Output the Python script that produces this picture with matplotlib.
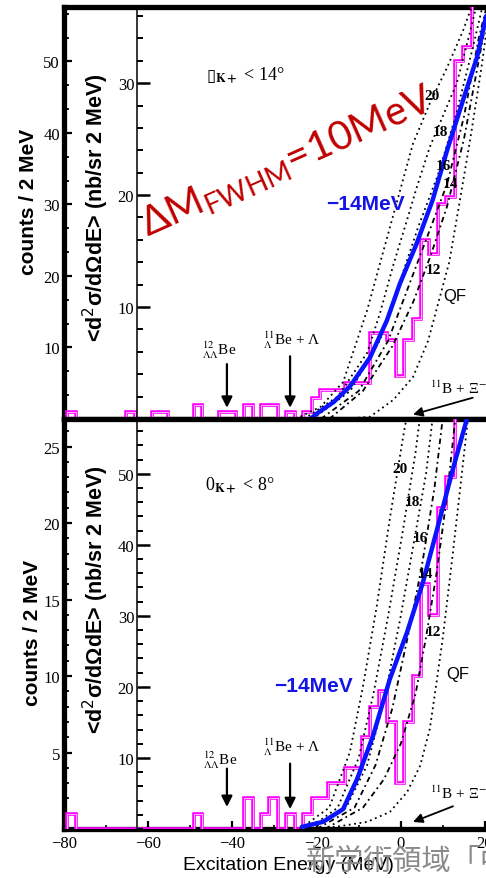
import numpy as np
import matplotlib
matplotlib.use('Agg')
import matplotlib.pyplot as plt
from matplotlib.ticker import FixedLocator, MultipleLocator

W, H, DPI = 486, 879, 100

# ---------------- data ----------------
bin_edges = np.arange(-79.2, 21.0, 2.0)          # 2 MeV bins
top_counts = [1, 0, 0, 0, 0, 0, 0, 1, 0, 0,
              1, 1, 0, 0, 0, 2, 0, 0, 1, 1,
              0, 2, 0, 2, 2, 0, 1, 0, 1, 3,
              4, 4, 4, 5, 5, 5, 12, 12, 11, 6,
              11, 14, 25, 23, 30, 31, 50, 52, 62, 70]
bot_counts = [1, 0, 0, 0, 0, 0, 0, 0, 0, 0,
              0, 0, 0, 0, 0, 1, 0, 0, 0, 0,
              0, 2, 0, 1, 2, 0, 1, 0, 1, 2,
              2, 3, 3, 4, 4, 6, 8, 9, 7, 3,
              7, 10, 16, 14, 21, 23, 30, 35, 40, 45]

# blue fit curve (nb/sr 2 MeV)
top_fit_E = [-21.5, -19.9, -16.0, -12.1, -7.3, -3.3, -0.2, 3.8, 7.6, 11.0, 14.8, 18.1, 20.3]
top_fit_v = [0.0, 0.5, 1.5, 2.9, 5.5, 8.8, 12.1, 15.7, 19.6, 24.0, 28.5, 32.3, 36.0]
bot_fit_E = [-23.5, -18.5, -13.7, -10.4, -6.6, -2.6, 1.5, 5.3, 9.3, 12.4, 15.7]
bot_fit_v = [0.3, 1.0, 2.8, 7.0, 13.1, 21.1, 27.7, 34.8, 43.7, 50.7, 57.7]

# theoretical curves (nb/sr 2 MeV) for potential depths 20..12 MeV and quasi-free
top_curves = {
    '20': ([-25, -19, -13.7, -8, -2.6, 2.9, 6.9, 11, 14.8, 17], [0, 1.1, 3.3, 9.7, 17.1, 24.6, 28.2, 31.4, 34.7, 37]),
    '18': ([-23, -15, -8, -4.9, -1.9, 1.5, 3.8, 6.9, 13.3, 16.4, 18], [0, 2, 5.9, 9.5, 13.6, 17.8, 20.7, 24.3, 30, 34.5, 37]),
    '16': ([-21, -12, -5, 0, 4, 9, 13, 17, 19.5], [0, 2.5, 7, 12.5, 17, 22, 27, 33, 37]),
    '14': ([-19, -10, -3, 2, 6, 11, 15, 18.5, 20.5], [0, 2.5, 7, 12, 16, 21, 27, 34, 37]),
    '12': ([-17, -9, -2, 3, 7, 11, 15, 18.5, 20.5], [0, 2.5, 6.5, 10.5, 14.5, 19, 25, 32, 36]),
    'QF': ([-14, -7.3, -1.8, 2.9, 6.5, 9, 11.5, 13.8, 16.5, 19, 20.5], [0, 0.2, 1.7, 3.75, 7, 10.5, 14, 19, 25, 31, 35]),
}
bot_curves = {
    '20': ([-24, -17, -12.1, -9, -5.7, -2.6, 0.5, 2], [0, 3, 10.8, 20, 31.4, 43.7, 55, 60]),
    '18': ([-22, -15, -10, -6.5, -3, 0.5, 3.5, 5], [0, 3, 10, 19, 30, 42, 53, 60]),
    '16': ([-21, -13, -8, -4, 0, 3, 6, 8], [0, 3, 9, 18, 30, 40, 50, 60]),
    '14': ([-20, -11, -6, -2, 2, 5, 8, 10], [0, 3, 9, 17, 28, 37, 48, 58]),
    '12': ([-18, -9, -4, 0, 3.5, 6, 8.5, 11, 13], [0, 3, 7, 12, 19, 27, 36, 47, 58]),
    'QF': ([-20, -14.4, -8, -2.6, 1.5, 4.6, 6.9, 8.6, 10, 12.4, 14.5, 16], [0, 0.4, 1.0, 2.4, 5.2, 8.9, 14.1, 21.1, 27, 39, 50, 58]),
}
curve_styles = {'20': (0, (1, 2)), '18': (0, (1, 2)), '16': (0, (1, 2)), '14': (0, (3, 2, 1, 2)),
                '12': (0, (3, 2, 1, 2)), 'QF': (0, (1, 2))}

x_ticks = [-80, -60, -40, -20, 0, 20]
top_count_ticks = [10, 20, 30, 40, 50]
top_inner_ticks = [10, 20, 30]
bot_count_ticks = [5, 10, 15, 20, 25]
bot_inner_ticks = [10, 20, 30, 40, 50]

# ---------------- style ----------------
plt.rcParams['mathtext.fontset'] = 'custom'
plt.rcParams['mathtext.rm'] = 'Lato'
plt.rcParams['mathtext.it'] = 'Lato:italic'
plt.rcParams['mathtext.bf'] = 'Lato:bold'
SERIF = ['Liberation Serif', 'DejaVu Serif']
SANS = ['Liberation Sans', 'DejaVu Sans']

fig = plt.figure(figsize=(W / DPI, H / DPI), dpi=DPI)

L_PX = 64
XMIN, XMAX = -80.0, 20.24
INNER_E = -62.66


def fx(x):
    return x / W


def fy(y):
    return 1 - y / H


def make_panel(ytop, ybot, cmax, vmax, cticks, cminor, vticks, show_x):
    rect = [fx(L_PX), fy(ybot), (W - L_PX) / W, (ybot - ytop) / H]
    ax = fig.add_axes(rect)
    ax.set_xlim(XMIN, XMAX)
    ax.set_ylim(0, cmax)
    for s in ['top', 'bottom', 'left']:
        ax.spines[s].set_linewidth(3.8)
    ax.spines['right'].set_visible(False)
    ax.yaxis.set_major_locator(FixedLocator(cticks))
    ax.yaxis.set_minor_locator(MultipleLocator(cminor))
    ax.tick_params(axis='y', which='major', direction='in', length=6, width=1.6,
                   labelsize=12, pad=3)
    ax.tick_params(axis='y', which='minor', direction='in', length=3.5, width=1.3)
    for t in ax.get_yticklabels():
        t.set_family(SERIF)
    if show_x:
        ax.xaxis.set_major_locator(FixedLocator(x_ticks))
        ax.xaxis.set_minor_locator(MultipleLocator(10))
        ax.tick_params(axis='x', which='major', direction='in', length=6, width=1.6,
                       labelsize=12, pad=4)
        ax.tick_params(axis='x', which='minor', direction='in', length=3, width=1.2)
        for t in ax.get_xticklabels():
            t.set_family(SERIF)
    else:
        ax.tick_params(axis='x', which='both', bottom=False, labelbottom=False)

    ax2 = fig.add_axes(rect, sharex=ax)
    ax2.patch.set_visible(False)
    ax2.set_ylim(0, vmax)
    for s in ['top', 'right', 'bottom']:
        ax2.spines[s].set_visible(False)
    ax2.spines['left'].set_position(('data', INNER_E))
    ax2.spines['left'].set_linewidth(1.1)
    ax2.yaxis.set_major_locator(FixedLocator(vticks))
    ax2.yaxis.set_minor_locator(MultipleLocator(2))
    ax2.tick_params(axis='y', which='major', direction='in', length=9.5, width=1.8,
                    labelsize=12, pad=2)
    ax2.tick_params(axis='y', which='minor', direction='in', length=4, width=1.4)
    ax2.tick_params(axis='x', which='both', bottom=False, labelbottom=False)
    for t in ax2.get_yticklabels():
        t.set_family(SERIF)
    return ax, ax2


def draw_content(ax, ax2, counts, fitE, fitV, curves):
    for k, (e, v) in curves.items():
        ax2.plot(e, v, color='black', lw=1.3, ls=curve_styles[k], zorder=2)
    ax.stairs(counts, bin_edges, color='#ff00ff', lw=2.6, zorder=3)
    ax.stairs(counts, bin_edges, color='#ffb8ff', lw=0.7, zorder=3)
    ax2.plot(fitE, fitV, color='#0a14ff', lw=3.2, solid_capstyle='round', zorder=5)


axT, axT2 = make_panel(8, 420, 57.6, 36.8, top_count_ticks, 10 / 3, top_inner_ticks, False)
axB, axB2 = make_panel(420, 830, 26.8, 57.7, bot_count_ticks, 1, bot_inner_ticks, True)

draw_content(axT, axT2, top_counts, top_fit_E, top_fit_v, top_curves)
draw_content(axB, axB2, bot_counts, bot_fit_E, bot_fit_v, bot_curves)

# arrows
arrow_kw = dict(arrowstyle='-|>', mutation_scale=16, lw=1.6, color='black', shrinkA=0, shrinkB=0)
axT2.annotate('', xy=(-41.3, 1.0), xytext=(-41.3, 4.9), arrowprops=arrow_kw)
axT2.annotate('', xy=(-26.3, 1.0), xytext=(-26.3, 5.6), arrowprops=arrow_kw)
axB2.annotate('', xy=(-41.3, 3.1), xytext=(-41.3, 8.5), arrowprops=arrow_kw)
axB2.annotate('', xy=(-26.3, 2.8), xytext=(-26.3, 9.2), arrowprops=arrow_kw)
small_kw = dict(arrowstyle='-|>', mutation_scale=14, lw=1.3, color='black', shrinkA=0, shrinkB=0)
axT2.annotate('', xy=(2.9, 0.4), xytext=(17.1, 1.9), arrowprops=small_kw)
axB2.annotate('', xy=(2.9, 1.0), xytext=(12.4, 3.2), arrowprops=small_kw)

# curve labels
lab_top = {'20': (432, 97), '18': (440, 133), '16': (443, 167), '14': (450, 185), '12': (433, 270)}
lab_bot = {'20': (400, 470), '18': (412, 503), '16': (420, 538), '14': (425, 575), '12': (433, 633)}
for d in (lab_top, lab_bot):
    for k, (x, y) in d.items():
        fig.text(fx(x), fy(y), k, family=SERIF, fontsize=11, fontweight='bold', ha='center', va='center')
fig.text(fx(455), fy(297), 'QF', family=SANS, fontsize=12, ha='center', va='center')
fig.text(fx(458), fy(675), 'QF', family=SANS, fontsize=12, ha='center', va='center')

# nuclear labels
for (x, y) in [(219, 350), (220, 760)]:
    fig.text(fx(x), fy(y), r'$^{12}_{\Lambda\Lambda}$Be', family=SERIF, fontsize=11,
             ha='center', va='center', math_fontfamily='stix')
for (x, y) in [(292, 340), (292, 747)]:
    fig.text(fx(x), fy(y), r'$^{11}_{\Lambda}$Be + Λ', family=SERIF, fontsize=11,
             ha='center', va='center', math_fontfamily='stix')
for (x, y) in [(458, 388), (458, 793)]:
    fig.text(fx(x), fy(y), r'$^{11}$B + Ξ$^{-}$', family=SERIF, fontsize=11,
             ha='center', va='center', math_fontfamily='stix')

# angle cuts
fig.text(fx(206), fy(81), '\u25af', family=['DejaVu Sans'], fontsize=12, ha='left', va='baseline')
fig.text(fx(215), fy(81), r'$_{\mathbf{K+}}$' + ' < 14°', family=SERIF,
         fontsize=13, ha='left', va='baseline', math_fontfamily='stix')
fig.text(fx(205), fy(491), '0' + r'$_{\mathbf{K+}}$' + ' < 8°', family=SERIF,
         fontsize=13, ha='left', va='baseline', math_fontfamily='stix')

# fitted shift labels
for (x, y) in [(365, 205), (313, 686)]:
    fig.text(fx(x), fy(y), '\u221214MeV', family=SANS,
             fontsize=15, fontweight='bold', color='#1414e6', ha='center', va='center')

# resolution annotation
fig.text(fx(148), fy(237), r'ΔM$_{\mathrm{FWHM}}$=10MeV', family=['Lato', 'DejaVu Sans'],
         fontsize=29, color='#c00000', rotation=24, rotation_mode='anchor',
         ha='left', va='baseline', math_fontfamily='custom')

# axis titles
for (x, y) in [(29, 202), (32, 633)]:
    fig.text(fx(x), fy(y), 'counts / 2 MeV', family=SANS, fontsize=15, fontweight='bold',
             rotation=90, ha='center', va='center')
for (x, y) in [(96, 208), (96, 600)]:
    fig.text(fx(x), fy(y), r'<d$^{2}$σ/dΩdE> (nb/sr 2 MeV)', family=SANS, fontsize=15.5,
             fontweight='bold', rotation=90, ha='center', va='center', math_fontfamily='dejavusans')
fig.text(fx(288), fy(866), 'Excitation Energy (MeV)', family=SANS, fontsize=14,
         ha='center', va='center')

# watermark
fig.text(fx(305), fy(862), '新学術領域「中', family=['Noto Sans CJK JP', 'DejaVu Sans'],
         fontsize=21, color='#8a8a8a', ha='left', va='center')

fig.savefig('out.png', dpi=DPI)
